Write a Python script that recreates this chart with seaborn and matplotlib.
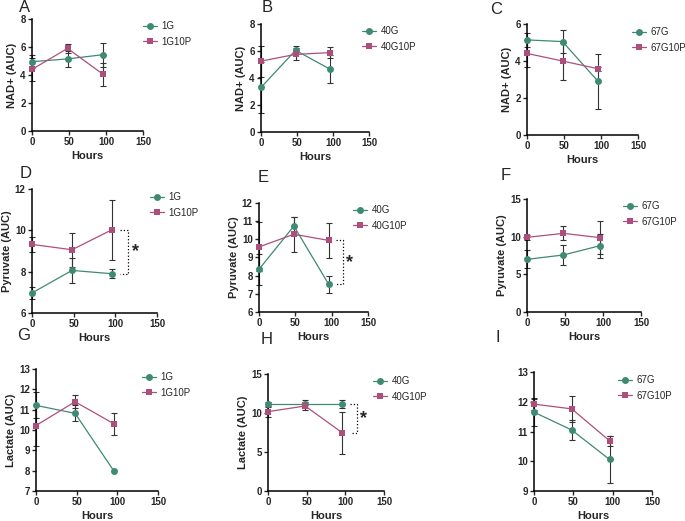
import numpy as np
import pandas as pd
import matplotlib
matplotlib.use("Agg")
import matplotlib.pyplot as plt
import seaborn as sns

# ----- data -----
hours = [0, 48, 96]

# NAD+
nad_1g = [4.95, 5.15, 5.45]
nad_1g_err = [0.45, 0.55, 0.85]
nad_1g10p = [4.40, 5.90, 4.05]
nad_1g10p_err = [0.80, 0.30, 0.82]

nad_40g = [3.30, 6.05, 4.65]
nad_40g_err = [1.90, 0.30, 1.05]
nad_40g10p = [5.25, 5.75, 5.88]
nad_40g10p_err = [1.15, 0.45, 0.40]

nad_67g = [5.14, 5.05, 2.90]
nad_67g_err = [0.40, 0.60, 1.50]
nad_67g10p = [4.41, 4.00, 3.58]
nad_67g10p_err = [0.75, 1.00, 0.12]

# Pyruvate
pyr_1g = [6.97, 8.06, 7.90]
pyr_1g_err = [0.30, 0.60, 0.22]
pyr_1g10p = [9.32, 9.06, 10.03]
pyr_1g10p_err = [0.35, 0.83, 1.45]

pyr_40g = [8.35, 10.73, 7.52]
pyr_40g_err = [0.85, 0.50, 0.45]
pyr_40g10p = [9.58, 10.28, 9.94]
pyr_40g10p_err = [1.35, 0.95, 0.97]

pyr_67g = [6.99, 7.57, 8.80]
pyr_67g_err = [1.20, 1.30, 1.60]
pyr_67g10p = [9.91, 10.44, 9.87]
pyr_67g10p_err = [0.30, 0.93, 2.15]

# Lactate
lac_1g = [11.21, 10.82, 7.97]
lac_1g_err = [0.64, 0.40, 0.0]
lac_1g10p = [10.22, 11.39, 10.30]
lac_1g10p_err = [1.00, 0.33, 0.53]

lac_40g = [11.12, 11.12, 11.12]
lac_40g_err = [0.30, 0.50, 0.50]
lac_40g10p = [10.17, 10.90, 7.47]
lac_40g10p_err = [0.70, 0.55, 2.70]

lac_67g = [11.65, 11.05, 10.06]
lac_67g_err = [0.45, 0.32, 0.80]
lac_67g10p = [11.92, 11.76, 10.69]
lac_67g10p_err = [0.20, 0.45, 0.17]

GREEN = "#3e8a73"
PINK = "#ad4f7c"

sns.set_style("ticks")
plt.rcParams["font.family"] = ["Liberation Sans", "DejaVu Sans"]

W, H = 685, 521
fig = plt.figure(figsize=(W / 100, H / 100), dpi=100)

# (letter, ylabel, labels, series, axes px box, yticks, legend px, letter px, bracket)
panels = [
    ("A", "NAD+ (AUC)", ("1G", "1G10P"),
     (nad_1g, nad_1g_err, nad_1g10p, nad_1g10p_err),
     (32, 19, 143, 131), [0, 2, 4, 6, 8], (143, 27), (25, 7), False),
    ("B", "NAD+ (AUC)", ("40G", "40G10P"),
     (nad_40g, nad_40g_err, nad_40g10p, nad_40g10p_err),
     (261, 24, 369, 132), [0, 2, 4, 6, 8], (362, 32), (267, 8), False),
    ("C", "NAD+ (AUC)", ("67G", "67G10P"),
     (nad_67g, nad_67g_err, nad_67g10p, nad_67g10p_err),
     (527, 24, 638, 135), [0, 2, 4, 6], (632, 33), (496, 9), False),
    ("D", "Pyruvate (AUC)", ("1G", "1G10P"),
     (pyr_1g, pyr_1g_err, pyr_1g10p, pyr_1g10p_err),
     (32, 189, 157, 313), [6, 8, 10, 12], (150, 198), (26, 174), True),
    ("E", "Pyruvate (AUC)", ("40G", "40G10P"),
     (pyr_40g, pyr_40g_err, pyr_40g10p, pyr_40g10p_err),
     (259, 203, 368, 312), [6, 7, 8, 9, 10, 11, 12], (353, 211), (263, 177), True),
    ("F", "Pyruvate (AUC)", ("67G", "67G10P"),
     (pyr_67g, pyr_67g_err, pyr_67g10p, pyr_67g10p_err),
     (527, 199, 641, 312), [0, 5, 10, 15], (623, 207), (506, 175), False),
    ("G", "Lactate (AUC)", ("1G", "1G10P"),
     (lac_1g, lac_1g_err, lac_1g10p, lac_1g10p_err),
     (36, 369, 158, 491), [7, 8, 9, 10, 11, 12, 13], (142, 378), (24, 335), False),
    ("H", "Lactate (AUC)", ("40G", "40G10P"),
     (lac_40g, lac_40g_err, lac_40g10p, lac_40g10p_err),
     (268, 374, 384, 491), [0, 5, 10, 15], (373, 382), (267, 339), True),
    ("I", "", ("67G", "67G10P"),
     (lac_67g, lac_67g_err, lac_67g10p, lac_67g10p_err),
     (534, 372, 652, 491), [9, 10, 11, 12, 13], (618, 381), (498, 338), False),
]

for letter, ylab, labels, series, box, yticks, leg, lpos, bracket in panels:
    x1, y1, x2, y2 = box
    ax = fig.add_axes([x1 / W, 1 - y2 / H, (x2 - x1) / W, (y2 - y1) / H])
    g, g_err, p, p_err = series
    df = pd.DataFrame({
        "Hours": hours * 2,
        "value": list(g) + list(p),
        "group": [labels[0]] * 3 + [labels[1]] * 3,
    })
    for vals, errs in ((g, g_err), (p, p_err)):
        ax.errorbar(hours, vals, yerr=errs, fmt="none", ecolor="#333333",
                    elinewidth=0.8, capsize=2.5, capthick=0.8, clip_on=False,
                    zorder=2)
    sns.lineplot(data=df, x="Hours", y="value", hue="group", style="group",
                 palette={labels[0]: GREEN, labels[1]: PINK},
                 markers={labels[0]: "o", labels[1]: "s"}, dashes=False,
                 markersize=5, markeredgewidth=0, linewidth=0.9,
                 clip_on=False, zorder=3, ax=ax)
    ax.set_xlim(0, 150)
    ax.set_ylim(yticks[0], yticks[-1])
    ax.set_xticks([0, 50, 100, 150])
    ax.set_yticks(yticks)
    for lab in ax.get_xticklabels() + ax.get_yticklabels():
        lab.set_fontweight("bold")
    ax.tick_params(labelsize=7, length=3, width=1, pad=1.5)
    ax.set_xlabel("Hours", fontsize=8, fontweight="bold", labelpad=3)
    ax.set_ylabel(ylab, fontsize=8, fontweight="bold", labelpad=2)
    sns.despine(ax=ax)
    for s in ("left", "bottom"):
        ax.spines[s].set_linewidth(1.1)
        ax.spines[s].set_color("black")

    handles, hl = ax.get_legend_handles_labels()
    ax.legend(handles, hl, loc="upper left",
              bbox_to_anchor=(leg[0] / W, 1 - (leg[1] - 6) / H),
              bbox_transform=fig.transFigure, frameon=False, fontsize=7,
              borderpad=0, borderaxespad=0, handlelength=1.4,
              handletextpad=0.5, labelspacing=0.6)

    fig.text(lpos[0] / W, 1 - lpos[1] / H, letter, fontsize=12,
             ha="center", va="center")

    if bracket:
        top = max(g[2], p[2])
        bot = min(g[2], p[2])
        bx = [106, 115, 115, 106]
        by = [top, top, bot, bot]
        ax.plot(bx, by, ls=":", color="black", lw=0.9, clip_on=False)
        ax.text(124, (top + bot) / 2, "*", fontsize=13, fontweight="bold",
                ha="center", va="center", clip_on=False)

fig.savefig("out.png", dpi=100)
